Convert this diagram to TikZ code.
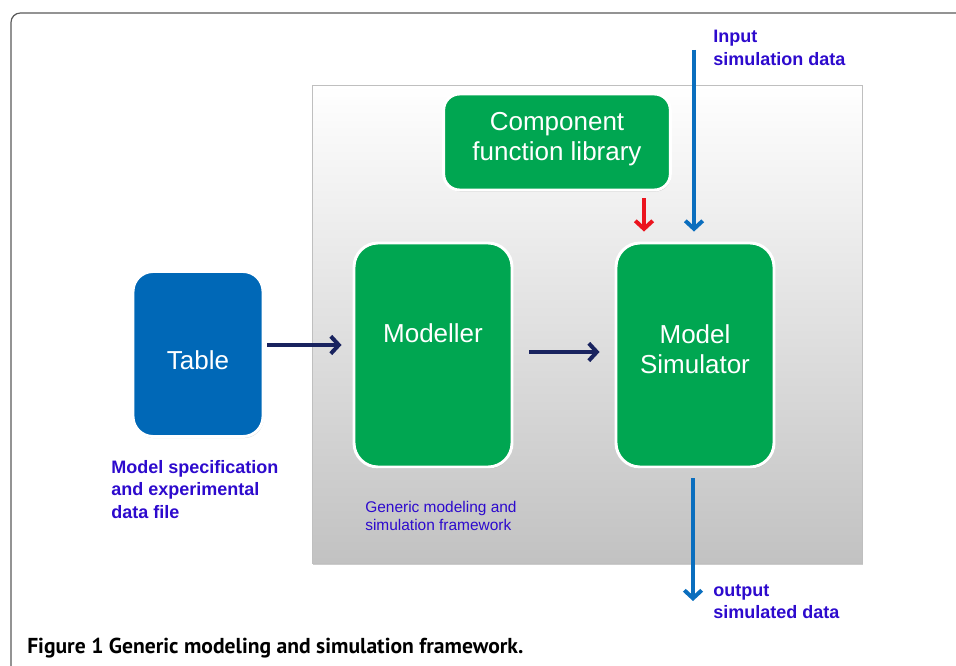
\documentclass[tikz,border=0pt]{standalone}
\usepackage{fontspec}
\setmainfont{Liberation Sans}
\newfontfamily\capfont{PT Sans}
\usetikzlibrary{arrows.meta,shadows,positioning}
\definecolor{boxgreen}{RGB}{0,166,81}
\definecolor{boxblue}{RGB}{0,104,183}
\definecolor{labelblue}{RGB}{45,10,205}
\definecolor{flowblue}{RGB}{10,110,190}
\definecolor{navyblue}{RGB}{25,35,95}
\definecolor{redarrow}{RGB}{235,20,30}

\begin{document}
\begin{tikzpicture}[x=0.75pt,y=-0.75pt]
  \useasboundingbox (0,0) rectangle (956,666);
  \tikzset{BoxStyle/.style      = {draw           = white,
                                   line width     = 2.2pt,
                                   text           = white,
                                   align          = center,
                                   font           = \fontsize{19.5}{22.5}\selectfont,
                                   drop shadow    = {opacity=0.35,
                                                     shadow xshift=0.6pt,
                                                     shadow yshift=-1.2pt}}}
  \tikzset{GreenStyle/.style    = {BoxStyle,
                                   fill           = boxgreen}}
  \tikzset{LabelStyle/.style    = {text           = labelblue,
                                   align          = left,
                                   inner sep      = 0pt,
                                   font           = \bfseries\fontsize{13.5}{17}\selectfont}}
  \tikzset{FlowStyle/.style     = {line width     = 3pt,
                                   -{Straight Barb[length=6pt,width=13pt]}}}
  % outer frame
  \draw[black!65, line width=0.9pt, rounded corners=7pt]
       (11,700) -- (11,13) -- (990,13);
  % framework background
  \node[draw           = black!25,
        line width     = 0.6pt,
        top color      = white,
        bottom color   = black!24,
        minimum width  = 412.5pt,
        minimum height = 358.5pt,
        drop shadow    = {opacity=0.4, shadow xshift=1pt, shadow yshift=-1.5pt}]
       (frame) at (587,324) {};
  % boxes
  \node[GreenStyle, rounded corners=12pt,
        minimum width=170pt, minimum height=72pt] (lib) at (557,142)
       {Component\\function library\\[-14pt]\mbox{}};
  \node[GreenStyle, rounded corners=18pt,
        minimum width=118.5pt, minimum height=168pt] (mod) at (433,355) {};
  \node[text=white, font=\fontsize{19.5}{22.5}\selectfont] (modtext) at (433,333) {Modeller};
  \node[GreenStyle, rounded corners=18pt,
        minimum width=118.5pt, minimum height=168pt] (sim) at (695,355)
       {Model\\Simulator\\[-14pt]\mbox{}};
  \node[BoxStyle, fill=boxblue, rounded corners=15pt,
        minimum width=97.5pt, minimum height=123.75pt] (table) at (198,354)
       {\mbox{}\\[1pt]Table};
  % labels
  \node[LabelStyle, anchor=north west] (inlabel) at (713,30) {Input\\simulation data};
  \node[LabelStyle, anchor=north west] (outlabel) at (713,584) {output\\simulated data};
  \node[LabelStyle, anchor=north west] (speclabel) at (111,460)
       {Model specification\\and experimental\\data file};
  \node[text=labelblue, align=left, inner sep=0pt, anchor=north west,
        font=\fontsize{11.6}{13.5}\selectfont] (framelabel) at (365,501)
       {Generic modeling and\\simulation framework};
  \node[anchor=north west, inner sep=0pt,
        font=\capfont\bfseries\fontsize{16.2}{19}\selectfont] (caption) at (27,638)
       {Figure 1 Generic modeling and simulation framework.};
  % connectors
  \coordinate (in)  at (694,50);
  \coordinate (out) at (693,601);
  \draw[FlowStyle, navyblue] ([shift={(3,-9)}]table.east) -- ([shift={(-11,-10)}]mod.west);
  \draw[FlowStyle, navyblue] ([shift={(16,-3)}]mod.east) -- ([shift={(-15,-3)}]sim.west);
  \draw[FlowStyle, redarrow] ([shift={(87,7)}]lib.south) -- ([shift={(-51,-10)}]sim.north);
  \draw[FlowStyle, flowblue] (in) -- ([shift={(-1,-10)}]sim.north);
  \draw[FlowStyle, flowblue] ([shift={(-2,10)}]sim.south) -- (out);
\end{tikzpicture}
\end{document}
